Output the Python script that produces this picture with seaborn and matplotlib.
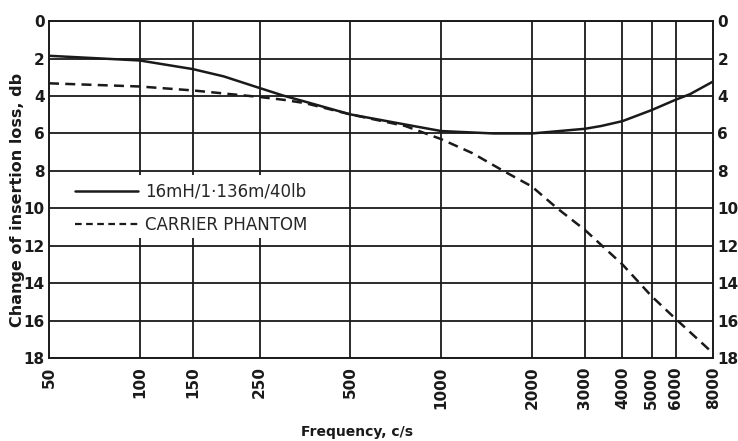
import matplotlib
matplotlib.use("Agg")
import matplotlib.pyplot as plt
from matplotlib.patches import Rectangle
import seaborn as sns
import pandas as pd

# Frequency (c/s) and change of insertion loss (db) for each network
coil_freq = [50, 100, 150, 190, 240, 300, 354, 500, 760, 1000, 1500,
             2000, 3000, 3400, 4000, 5000, 6000, 6700, 8000]
coil_loss = [1.85, 2.1, 2.56, 2.95, 3.48, 3.98, 4.3, 4.98, 5.52, 5.87, 6.0,
             6.0, 5.75, 5.6, 5.34, 4.75, 4.2, 3.9, 3.22]

phantom_freq = [50, 100, 150, 250, 300, 354, 500, 760, 1000, 1270, 1610,
                2000, 2430, 3000, 4000, 5000, 6000, 8000]
phantom_loss = [3.32, 3.49, 3.7, 4.05, 4.2, 4.38, 4.98, 5.6, 6.3, 7.05, 8.0,
                8.83, 10.0, 11.15, 13.0, 14.7, 15.9, 17.75]

series_names = ["16mH/1·136m/40lb", "CARRIER PHANTOM"]

x_ticks = [50, 100, 150, 250, 500, 1000, 2000, 3000, 4000, 5000, 6000, 8000]
x_tick_labels = ["50", "100", "150", "250", "500", "1000", "2000", "3000",
                 "4000", "5000", "6000", "8000"]
y_ticks = [0, 2, 4, 6, 8, 10, 12, 14, 16, 18]

df = pd.concat([
    pd.DataFrame({"freq": coil_freq, "loss": coil_loss, "series": series_names[0]}),
    pd.DataFrame({"freq": phantom_freq, "loss": phantom_loss, "series": series_names[1]}),
], ignore_index=True)

sns.set_theme(style="white")
plt.rcParams["font.family"] = ["DejaVu Sans"]

fig = plt.figure(figsize=(7.38, 4.41), dpi=100)
ax = fig.add_axes([0.0664, 0.188, 0.9, 0.764])

ink = "#1a1a1a"

sns.lineplot(data=df, x="freq", y="loss", hue="series", style="series",
             palette=[ink, ink], dashes=[(None, None), (4, 2.5)],
             linewidth=1.8, ax=ax, legend=False, zorder=4)

ax.set_xscale("log")
ax.set_xlim(50, 8000)
ax.set_ylim(18, 0)
ax.set_xticks(x_ticks)
ax.set_xticklabels(x_tick_labels, rotation=90, fontsize=11, fontweight="bold")
ax.minorticks_off()
ax.set_yticks(y_ticks)
ax.set_yticklabels([str(v) for v in y_ticks], fontsize=11, fontweight="bold")
ax.tick_params(axis="both", length=0, colors=ink)
ax.tick_params(axis="y", pad=3, labelright=True, right=False)
ax.tick_params(axis="x", pad=6)

# grid: horizontal lines full width, vertical lines broken behind the key
ax.grid(False)
for v in y_ticks:
    ax.axhline(v, color=ink, linewidth=1.3, zorder=2)
for v in x_ticks[1:-1]:
    ax.axvline(v, color=ink, linewidth=1.3, zorder=1)

for sp in ax.spines.values():
    sp.set_color(ink)
    sp.set_linewidth(1.4)

# white panel behind the key, interrupting the vertical grid lines only
ax.add_patch(Rectangle((0.009, 0.356), 0.437, 0.187, transform=ax.transAxes,
                       facecolor="white", edgecolor="none", zorder=1.5))

# key
ax.plot([], [], color=ink, linewidth=1.8, label=series_names[0])
ax.plot([], [], color=ink, linewidth=1.6, dashes=(3, 2), label=series_names[1])
ax.legend(loc="upper left", bbox_to_anchor=(0.016, 0.566), frameon=False,
          handlelength=3.8, handletextpad=0.4, labelspacing=0.92,
          prop={"size": 12})

ax.set_xlabel("Frequency, c/s", fontsize=10, fontweight="bold", color=ink)
ax.xaxis.set_label_coords(0.464, -0.20)
ax.set_ylabel("Change of insertion loss, db", fontsize=11.5, fontweight="bold",
              color=ink)
ax.yaxis.set_label_coords(-0.036, 0.47)

fig.savefig("out.png", dpi=100)
